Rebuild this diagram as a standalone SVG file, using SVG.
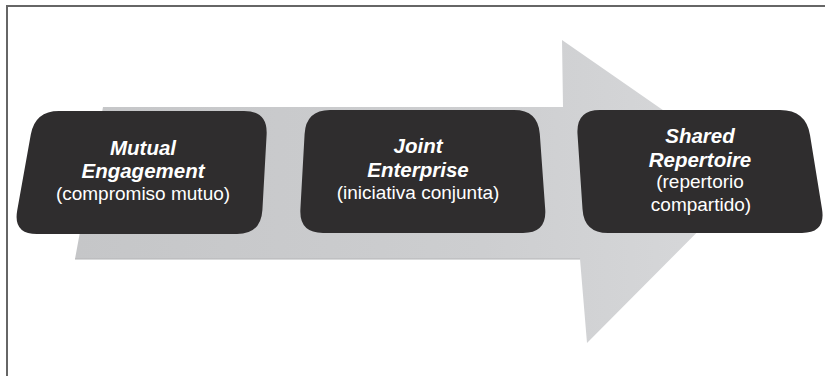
<svg xmlns="http://www.w3.org/2000/svg" width="825" height="376" viewBox="0 0 825 376">
  <style>
    .box { fill: #2f2d2e; }
    .t { font-family: "Liberation Sans", Arial, sans-serif; fill: #ffffff; text-anchor: middle; }
    .en { font-size: 20.5px; font-weight: bold; font-style: italic; }
    .es { font-size: 19px; }
  </style>
  <defs>
    <linearGradient id="arrowGrad" x1="0" y1="0" x2="1" y2="0">
      <stop offset="0" stop-color="#c5c6c8"/>
      <stop offset="0.6" stop-color="#cdced0"/>
      <stop offset="1" stop-color="#d8d9db"/>
    </linearGradient>
  </defs>
  <rect x="0" y="0" width="825" height="376" fill="#ffffff"/>
  <g id="frame">
    <line x1="6" y1="6" x2="825" y2="6" stroke="#666666" stroke-width="2"/>
    <line x1="7" y1="5" x2="7" y2="376" stroke="#666666" stroke-width="2"/>
  </g>
  <g id="connectors">
    <polygon id="arrow" points="103,107 563,107 562,40 755,174 587,343 580,259 75,259" fill="url(#arrowGrad)"/>
    <line x1="75" y1="259" x2="580" y2="259" stroke="#b4b5b7" stroke-width="1"/>
  </g>
  <g id="node-mutual">
    <path class="box" d="M59,111 L244,111 Q268,111 266.6,135 L262.4,210 Q261,234 237,234 L37,234 Q13,234 17.2,210.4 L30.8,134.6 Q35,111 59,111 Z"/>
    <text class="t en" x="143" y="155">Mutual</text>
    <text class="t en" x="143" y="178">Engagement</text>
    <text class="t es" x="143" y="200">(compromiso mutuo)</text>
  </g>
  <g id="node-joint">
    <path class="box" d="M330,110 L514,110 Q538,110 539.8,133.9 L545.2,209.1 Q547,233 523,233 L323,233 Q299,233 300.4,209 L304.6,134 Q306,110 330,110 Z"/>
    <text class="t en" x="418" y="153">Joint</text>
    <text class="t en" x="418" y="177">Enterprise</text>
    <text class="t es" x="418" y="199">(iniciativa conjunta)</text>
  </g>
  <g id="node-shared">
    <path class="box" d="M600,110 L780,110 Q806,110 810,135 L822,209 Q826,233 802,233 L608,233 Q584,233 582.5,209 L577.5,134 Q576,110 600,110 Z"/>
    <text class="t en" x="700" y="143">Shared</text>
    <text class="t en" x="700" y="167">Repertoire</text>
    <text class="t es" x="700" y="188">(repertorio</text>
    <text class="t es" x="701" y="211">compartido)</text>
  </g>
</svg>
